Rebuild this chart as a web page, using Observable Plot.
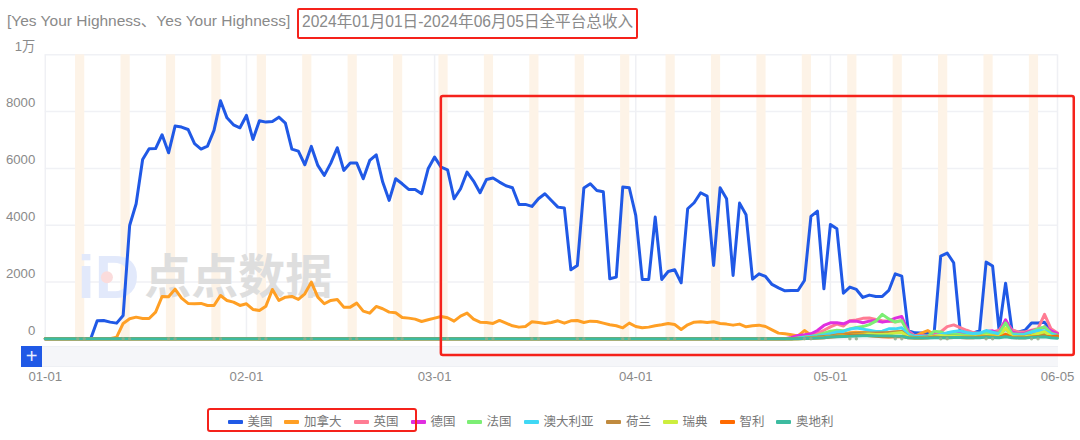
<!DOCTYPE html>
<html><head><meta charset="utf-8">
<script src="https://cdn.jsdelivr.net/npm/d3@7"></script>
<script src="https://cdn.jsdelivr.net/npm/@observablehq/plot@0.6"></script>
<style>
html,body{margin:0;padding:0;background:#fff;width:1080px;height:440px;overflow:hidden;font-family:"Liberation Sans","Noto Sans CJK SC",sans-serif}
#title{height:38px;box-sizing:border-box;padding:12px 0 0 7px;font-size:15.5px;line-height:18px;color:#8a8a8a;white-space:nowrap;position:relative}
#title .box{position:absolute;left:297px;top:8px;height:27px;border:2.5px solid #f5221b;border-radius:2px;box-sizing:content-box;padding:0 0 0 3px;line-height:24px;font-size:15.6px;width:334px}
#chart{position:relative;height:352px}
#chart svg{overflow:visible;display:block;position:relative;z-index:1}
#track{position:absolute;left:42px;top:308px;width:1016px;height:21px;background:#f5f6f9;border-top:1px solid #eef0f4;border-bottom:1px solid #eef0f4;box-sizing:border-box}
#plus{position:absolute;left:21px;top:308px;width:21px;height:21px;background:#2059e6;color:#e8eeff;font-size:20px;line-height:20px;text-align:center;z-index:2}
#legend{position:relative;height:50px;font-size:12.5px;color:#777}
#legend .item{position:absolute;top:24px;height:16px;line-height:16px;white-space:nowrap}
#legend .sw{position:absolute;top:6px;left:-20px;width:15px;height:4px;border-radius:1px}
#legend .box{position:absolute;left:207px;top:18px;width:206px;height:20px;border:2.5px solid #f5221b;border-radius:3px}
</style></head><body>
<div id="title">[Yes Your Highness、Yes Your Highness]<span class="box">2024年01月01日-2024年06月05日全平台总收入</span></div>
<div id="chart"><div id="track"></div><div id="plus">+</div></div>
<div id="legend"></div>
<script>
const seriesNames = ["美国","加拿大","英国","德国","法国","澳大利亚","荷兰","瑞典","智利","奥地利"];
const seriesColors = ["#2059e6","#ff9f24","#ff7c93","#e02ee0","#7cee74","#40d8f5","#c08a3e","#cdee3e","#ff6a00","#3dbba0"];
const legendLeft = [247.5,304,373.5,430.5,486.5,543.5,626,682.5,739.5,796];
const yTicks = [0,2000,4000,6000,8000,10000];
const xTickLabels = ["2024-01-01","2024-02-01","2024-03-01","2024-04-01","2024-05-01","2024-06-05"];

const usa = [0,0,0,0,0,0,0,0,634,646,
587,552,822,3990,4755,6316,6690,6700,7185,6550,
7490,7455,7370,6870,6680,6785,7340,8380,7780,7535,
7430,7865,7020,7680,7630,7655,7805,7595,6680,6610,
6128,6774,6105,5753,6187,6727,5929,6187,6187,5635,
6281,6480,5518,4872,5635,5459,5260,5260,5107,5987,
6398,6046,5952,4931,5283,5870,5553,5142,5612,5659,
5518,5389,5318,4731,4731,4661,4931,5107,4872,4637,
4602,2430,2583,5306,5459,5224,5177,2113,2172,5342,
5318,4344,2090,2090,4285,2090,2371,2430,1972,4579,
4790,5142,5025,2583,5318,4931,2231,4778,4367,2101,
2289,2195,1914,1796,1690,1700,1700,2055,4309,4496,
1761,4027,3874,1608,1820,1738,1456,1538,1491,1491,
1702,2289,2207,290,210,200,190,230,2912,3017,
2677,290,220,200,290,2700,2560,300,1960,280,
240,300,560,560,580,300,120];
const canada = [0,0,0,0,0,0,0,0,0,0,
0,60,540,704,763,716,716,940,1490,1480,
1750,1430,1245,1233,1245,1174,1174,1526,1350,1291,
1174,1233,1033,998,1150,1737,1350,1467,1490,1385,
1585,1996,1467,1233,1350,1385,1115,1115,1256,974,
904,1139,1057,939,916,751,728,693,610,669,
728,787,740,622,798,904,693,587,575,540,
646,552,458,411,434,599,575,540,575,634,
552,634,646,575,622,610,552,493,458,387,
552,434,387,411,458,493,540,505,329,493,
587,599,575,599,540,517,481,517,423,458,
481,434,317,200,176,141,100,290,130,150,
180,200,190,170,210,230,220,210,190,200,
220,240,260,120,90,200,290,150,100,120,
130,120,140,100,130,170,150,120,170,110,
110,130,160,190,230,150,80];
// the smaller markets only start earning late: values from 04-25 (day 115) to 06-05
const uk = [0,30,100,140,200,300,420,520,450,640,660,720,730,680,640,620,600,640,280,100,120,100,140,240,430,490,390,300,220,190,200,240,300,640,310,240,240,300,360,860,350,200];
const germany = [50,117,140,176,293,470,563,563,528,622,622,563,622,646,587,622,728,787,235,80,100,90,130,120,110,170,200,170,130,170,260,280,200,670,230,180,200,280,320,420,280,170];
const france = [0,30,60,90,130,200,270,300,280,350,400,430,500,620,860,700,590,640,180,80,90,90,270,240,150,170,150,120,130,190,230,200,200,560,180,160,170,250,350,420,200,130];
const australia = [0,20,50,80,100,130,180,240,260,340,380,340,300,260,270,350,350,390,140,80,80,70,100,150,210,260,280,220,190,200,290,230,160,330,140,130,150,230,290,280,170,100];
const netherlands = [0,10,20,50,60,80,100,130,150,180,190,200,200,200,210,220,240,260,70,50,50,60,70,80,90,90,80,70,70,80,100,90,80,120,80,70,80,120,130,150,90,60];
const sweden = [0,0,10,30,40,50,70,90,110,120,140,160,170,150,150,170,200,220,60,40,40,50,100,120,90,80,70,60,60,80,120,100,70,380,80,60,70,110,180,250,100,60];
const chile = [0,0,10,20,30,40,60,80,100,120,130,130,110,90,70,60,70,80,40,30,30,40,60,50,40,50,50,40,40,60,70,60,50,150,50,40,40,60,80,90,70,100];
const austria = [0,0,10,20,30,40,60,70,80,90,100,110,110,100,100,100,90,90,40,30,30,30,40,40,40,50,50,40,40,40,60,50,40,70,40,30,30,50,60,70,40,20];

// annotation box corners, in chart units
const noteBoxDates = ["2024-03-02T01:00Z","2024-06-07T14:00Z"];
const noteBoxValues = [-590,8530];
const watermark = ["点点数据"];
const watermarkLogo = ["iD"];

const days = d3.utcDay.range(new Date("2024-01-01"), new Date("2024-06-06"));
const tailStart = 115;
const series = [usa,canada,uk,germany,france,australia,netherlands,sweden,chile,austria];
const rows = [];
series.forEach((vals,s)=>{
  const off = vals.length===days.length ? 0 : tailStart;
  days.forEach((d,i)=>{
    const v = i<off ? 0 : vals[i-off];
    rows.push({date:d,name:seriesNames[s],value:v});
  });
});
const saturdays = d3.utcSaturday.range(new Date("2024-01-01"), new Date("2024-06-06"));
const H = 3600e3;
const weekends = saturdays.map(d=>({x1:new Date(+d-8*H),x2:new Date(+d+26*H)}));
const weekendDays = saturdays.flatMap(d=>[d,new Date(+d+24*H)]);
const xTicks = xTickLabels.map(d=>new Date(d));

const plot = Plot.plot({
  width:1080,height:352,
  marginLeft:44.8,marginRight:23,marginTop:16.3,marginBottom:51.7,
  style:{fontFamily:'"Liberation Sans","Noto Sans CJK SC",sans-serif',background:"transparent",overflow:"visible"},
  x:{type:"utc",domain:[days[0],days[days.length-1]]},
  y:{domain:[0,10000]},
  color:{domain:seriesNames,range:seriesColors},
  marks:[
    Plot.ruleY(yTicks,{stroke:"#f0f1f5",strokeWidth:1.5}),
    Plot.ruleX(xTicks,{stroke:"#eff0f4",strokeWidth:1.5}),
    Plot.rect(weekends,{x1:"x1",x2:"x2",y1:0,y2:10000,fill:"#fdf3e7"}),
    Plot.text(watermark,{x:()=>new Date("2024-01-30T18:00Z"),y:()=>2150,text:d=>d,fontSize:47,fontWeight:"bold",fill:"#dedede",textAnchor:"middle"}),
    Plot.text(watermarkLogo,{x:()=>new Date("2024-01-10T18:00Z"),y:()=>2150,text:d=>d,fontSize:62,fontWeight:"bold",fill:"#e2e9fb",textAnchor:"middle"}),
    Plot.dot([0],{x:()=>new Date("2024-01-10T12:00Z"),y:()=>2170,r:6,fill:"#fbdcdc"}),
    Plot.axisY(yTicks,{tickSize:0,tickPadding:10,dy:-8.5,fontSize:13.2,fill:"#8a8a8a",label:null,tickFormat:v=>v===10000?"1万":String(v)}),
    Plot.axisX(xTicks,{tickSize:0,tickPadding:33,fontSize:13.2,fill:"#8a8a8a",label:null,tickFormat:d3.utcFormat("%m-%d")}),
    Plot.line(rows,{x:"date",y:"value",stroke:"name",z:"name",strokeWidth:3,strokeLinejoin:"round",strokeLinecap:"round",clip:false}),
    Plot.dot(weekendDays,{x:d=>d,y:()=>0,r:1.7,fill:"#8fae8a",fillOpacity:0.85}),
    Plot.rect([0],{x1:()=>new Date(noteBoxDates[0]),x2:()=>new Date(noteBoxDates[1]),y1:()=>noteBoxValues[0],y2:()=>noteBoxValues[1],fill:"none",stroke:"#f5221b",strokeWidth:2.5,rx:2})
  ]
});
const chart = document.getElementById("chart");
chart.insertBefore(plot, chart.firstChild);

const legend = document.getElementById("legend");
seriesNames.forEach((n,i)=>{
  const it=document.createElement("div");it.className="item";it.style.left=legendLeft[i]+"px";it.textContent=n;
  const sw=document.createElement("span");sw.className="sw";sw.style.background=seriesColors[i];it.appendChild(sw);
  legend.appendChild(it);
});
const bx=document.createElement("div");bx.className="box";legend.appendChild(bx);
</script>
</body></html>
